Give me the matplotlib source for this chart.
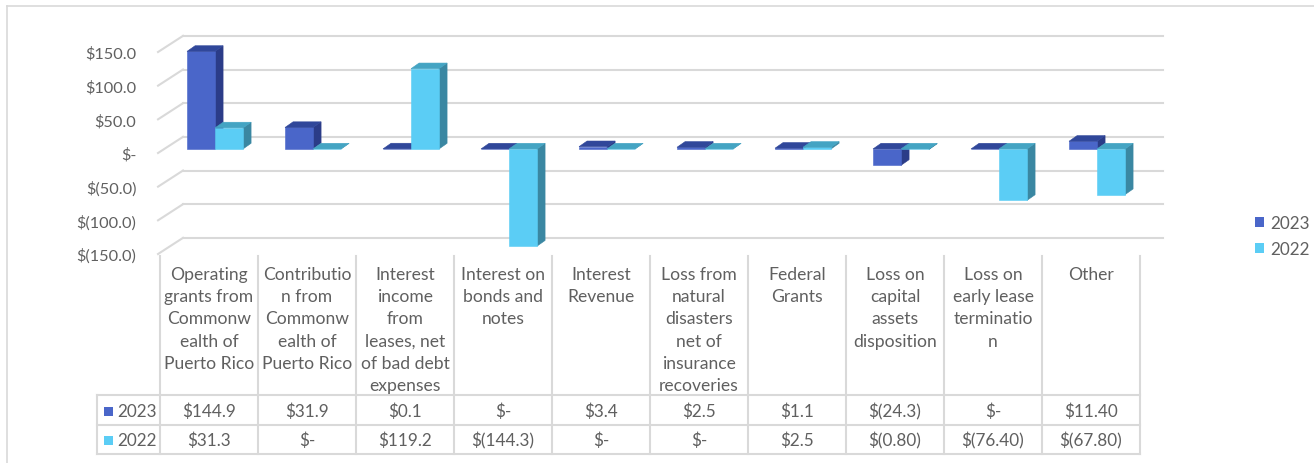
import numpy as np
import matplotlib
matplotlib.use("Agg")
import matplotlib.pyplot as plt
from matplotlib.patches import Polygon, Rectangle, Patch
from matplotlib.lines import Line2D

plt.rcParams['font.family'] = ['Lato', 'DejaVu Sans']

categories = [
    "Operating\ngrants from\nCommonw\nealth of\nPuerto Rico",
    "Contributio\nn from\nCommonw\nealth of\nPuerto Rico",
    "Interest\nincome\nfrom\nleases, net\nof bad debt\nexpenses",
    "Interest on\nbonds and\nnotes",
    "Interest\nRevenue",
    "Loss from\nnatural\ndisasters\nnet of\ninsurance\nrecoveries",
    "Federal\nGrants",
    "Loss on\ncapital\nassets\ndisposition",
    "Loss on\nearly lease\nterminatio\nn",
    "Other",
]
vals_2023 = [144.9, 31.9, 0.1, 0.0, 3.4, 2.5, 1.1, -24.3, 0.0, 11.4]
vals_2022 = [31.3, 0.0, 119.2, -144.3, 0.0, 0.0, 2.5, -0.8, -76.4, -67.8]
text_2023 = ["$144.9", "$31.9", "$0.1", "$-", "$3.4", "$2.5", "$1.1", "$(24.3)", "$-", "$11.40"]
text_2022 = ["$31.3", "$-", "$119.2", "$(144.3)", "$-", "$-", "$2.5", "$(0.80)", "$(76.40)", "$(67.80)"]
series = ["2023", "2022"]
yticks = [150, 100, 50, 0, -50, -100, -150]

W, H = 1314, 464
fig = plt.figure(figsize=(W / 100, H / 100), dpi=100)
fig.patch.set_facecolor("white")

def box(x0, y0, x1, y1):
    # pixel box (top-left origin) -> figure fraction rect
    return [x0 / W, 1 - y1 / H, (x1 - x0) / W, (y1 - y0) / H]

txt = "#606060"
grid = "#D9D9D9"
front = ["#4A66C9", "#5BCDF5"]
top = ["#30479A", "#44A4C3"]
side = ["#2B3C88", "#3A87A2"]

# front plane of the plot
ax = fig.add_axes(box(160, 53, 1140, 255))
ax.set_xlim(0, 10)
ax.set_ylim(-150, 150)
for s in ax.spines.values():
    s.set_visible(False)
ax.set_xticks([])
ax.set_yticks(yticks)
ax.set_yticklabels(["$-" if v == 0 else ("$%.1f" % v if v > 0 else "$(%.1f)" % -v) for v in yticks],
                   color=txt, fontsize=11.8)
ax.tick_params(axis="y", length=0, pad=17)
ax.patch.set_alpha(0)

DX, DY = 0.235, 24.0   # offset of the back wall
f0, f1 = 0.25, 0.6     # depth of the bars
bw = 0.2857
start = 0.217

for v in yticks:
    ax.plot([DX, 10 + DX], [v + DY, v + DY], color=grid, lw=1.5, clip_on=False, zorder=1)
    ax.plot([-0.02, DX], [v, v + DY], color=grid, lw=1.5, clip_on=False, zorder=1)

def bar3d(x0, val, k):
    x1 = x0 + bw
    lo, hi = min(0, val), max(0, val)
    ax0, ay = f0 * DX, f0 * DY
    bx0, by = f1 * DX, f1 * DY
    fr = [(x0 + ax0, lo + ay), (x1 + ax0, lo + ay), (x1 + ax0, hi + ay), (x0 + ax0, hi + ay)]
    sd = [(x1 + ax0, lo + ay), (x1 + bx0, lo + by), (x1 + bx0, hi + by), (x1 + ax0, hi + ay)]
    tp = [(x0 + ax0, hi + ay), (x1 + ax0, hi + ay), (x1 + bx0, hi + by), (x0 + bx0, hi + by)]
    for pts, c in [(sd, side[k]), (fr, front[k]), (tp, top[k])]:
        ax.add_patch(Polygon(pts, closed=True, facecolor=c, edgecolor=c, lw=0.4,
                             clip_on=False, zorder=3))

for i in range(len(categories)):
    bar3d(i + start, vals_2023[i], 0)
    bar3d(i + start + bw, vals_2022[i], 1)

# data table
tb = fig.add_axes(box(97, 257, 1140, 455))
tb.set_xlim(-0.643, 10)
tb.set_ylim(198, 0)
tb.axis("off")
for i in range(11):
    tb.plot([i, i], [0, 198], color=grid, lw=1.5, clip_on=False)
for yy in [139, 169, 198]:
    tb.plot([-0.643, 10], [yy, yy], color=grid, lw=1.5, clip_on=False)
tb.plot([-0.643, -0.643], [139, 198], color=grid, lw=1.5, clip_on=False)

for i, c in enumerate(categories):
    tb.text(i + 0.5, 10, c, ha="center", va="top", fontsize=12.6, color=txt, linespacing=1.48)
    tb.text(i + 0.5, 155, text_2023[i], ha="center", va="center", fontsize=12.3, color=txt)
    tb.text(i + 0.5, 184, text_2022[i], ha="center", va="center", fontsize=12.3, color=txt)

for k, (name, yc) in enumerate(zip(series, [155, 184])):
    tb.add_patch(Rectangle((-0.571, yc - 4.5), 0.092, 9, facecolor=front[k], edgecolor="none"))
    tb.text(-0.44, yc, name, ha="left", va="center", fontsize=12.3, color=txt)

# legend
handles = [Patch(facecolor=front[k], edgecolor="none", label=series[k]) for k in range(2)]
fig.legend(handles=handles, loc="center left", bbox_to_anchor=(1246 / W, 1 - 237 / H),
           frameon=False, fontsize=12.3, labelcolor=txt, handlelength=0.55, handleheight=0.55,
           handletextpad=0.35, labelspacing=0.6, borderpad=0)

# outer border of the chart
fig.add_artist(Line2D([7 / W, 1], [1 - 7 / H, 1 - 7 / H], color=grid, lw=1.2))
fig.add_artist(Line2D([7 / W, 7 / W], [0, 1 - 7 / H], color=grid, lw=1.2))

fig.savefig("out.png", dpi=100, facecolor="white")
